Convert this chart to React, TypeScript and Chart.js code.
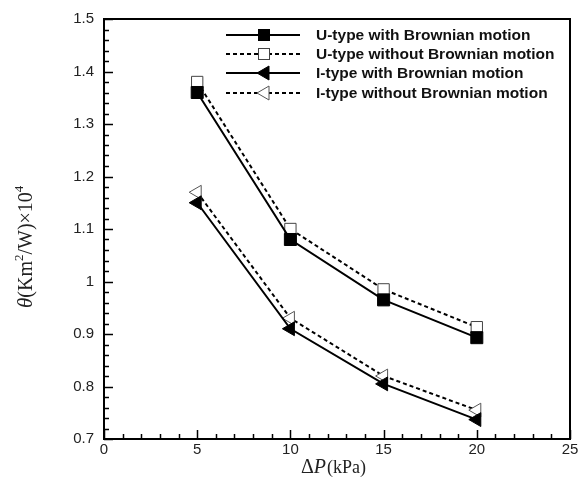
import React, { useEffect, useRef } from "react";
import { Chart, registerables } from "chart.js";

Chart.register(...registerables);

const pressure = [5, 10, 15, 20];
const uWith = [1.36, 1.08, 0.965, 0.893];
const uWithout = [1.38, 1.1, 0.985, 0.913];
const iWith = [1.15, 0.91, 0.805, 0.737];
const iWithout = [1.17, 0.93, 0.82, 0.755];
const seriesNames = [
  "U-type with Brownian motion",
  "U-type without Brownian motion",
  "I-type with Brownian motion",
  "I-type without Brownian motion",
];

const toXY = (ys: number[]) => pressure.map((x, i) => ({ x, y: ys[i] }));

const SERIF = "'Liberation Serif', 'Times New Roman', serif";

const decorPlugin = {
  id: "decor",
  afterDraw(chart: any) {
    const ctx = chart.ctx;
    const area = chart.chartArea;
    const xs = chart.scales.x;
    const ys = chart.scales.y;
    ctx.save();
    // frame
    ctx.strokeStyle = "#000";
    ctx.lineWidth = 2;
    ctx.strokeRect(area.left, area.top, area.right - area.left, area.bottom - area.top);
    // ticks inward
    ctx.lineWidth = 1.5;
    for (let v = 0; v <= 25; v += 1) {
      const px = Math.round(xs.getPixelForValue(v)) + 0.5;
      const len = v % 5 === 0 ? 9 : 5;
      ctx.beginPath();
      ctx.moveTo(px, area.bottom);
      ctx.lineTo(px, area.bottom - len);
      ctx.stroke();
    }
    for (let k = 0; k <= 40; k++) {
      const v = 0.7 + k * 0.02;
      const py = Math.round(ys.getPixelForValue(v)) + 0.5;
      const len = k % 5 === 0 ? 9 : 5;
      ctx.beginPath();
      ctx.moveTo(area.left, py);
      ctx.lineTo(area.left + len, py);
      ctx.stroke();
    }
    // legend
    const lx0 = 226;
    const lx1 = 300;
    const mx = 264;
    const rows = [35, 54, 73, 93];
    ctx.font = "bold 15.5px 'Liberation Sans', Arial, sans-serif";
    ctx.textBaseline = "middle";
    ctx.textAlign = "left";
    chart.data.datasets.forEach((ds: any, i: number) => {
      const y = rows[i];
      ctx.strokeStyle = "#000";
      ctx.lineWidth = 2;
      ctx.setLineDash(ds.borderDash || []);
      ctx.beginPath();
      ctx.moveTo(lx0, y);
      ctx.lineTo(lx1, y);
      ctx.stroke();
      ctx.setLineDash([]);
      // marker
      ctx.fillStyle = ds.pointBackgroundColor;
      ctx.strokeStyle = ds.pointBorderColor;
      ctx.lineWidth = 1;
      if (ds.pointStyle === "rect") {
        ctx.fillRect(mx - 6, y - 6, 12, 12);
        ctx.strokeRect(mx - 5.5, y - 5.5, 11, 11);
      } else {
        ctx.beginPath();
        ctx.moveTo(mx - 7, y);
        ctx.lineTo(mx + 5, y - 7);
        ctx.lineTo(mx + 5, y + 7);
        ctx.closePath();
        ctx.fill();
        ctx.stroke();
      }
      ctx.fillStyle = "#111";
      ctx.fillText(seriesNames[i], 316, y + 1);
    });
    // x title
    ctx.fillStyle = "#222";
    ctx.textBaseline = "alphabetic";
    const tx = 301;
    const ty = 473;
    ctx.font = "20px " + SERIF;
    ctx.fillText("\u0394", tx, ty);
    let w = ctx.measureText("\u0394").width;
    ctx.font = "italic 20px " + SERIF;
    ctx.fillText("P", tx + w, ty);
    w += ctx.measureText("P").width + 1;
    ctx.font = "18px " + SERIF;
    ctx.fillText("(kPa)", tx + w, ty);
    // y title
    ctx.save();
    ctx.translate(32, 308);
    ctx.rotate(-Math.PI / 2);
    let cx = 0;
    ctx.font = "italic 21px " + SERIF;
    ctx.fillText("\u03b8", cx, 0);
    cx += ctx.measureText("\u03b8").width;
    ctx.font = "20px " + SERIF;
    ctx.fillText("(Km", cx, 0);
    cx += ctx.measureText("(Km").width;
    ctx.font = "13px " + SERIF;
    ctx.fillText("2", cx, -9);
    cx += ctx.measureText("2").width;
    ctx.font = "20px " + SERIF;
    ctx.fillText("/W)\u00d710", cx, 0);
    cx += ctx.measureText("/W)\u00d710").width;
    ctx.font = "13px " + SERIF;
    ctx.fillText("4", cx, -9);
    ctx.restore();
    ctx.restore();
  },
};

export default function App() {
  const ref = useRef<HTMLCanvasElement>(null);
  useEffect(() => {
    document.body.style.margin = "0";
    const chart = new Chart(ref.current!, {
      type: "line",
      data: {
        datasets: [
          {
            label: seriesNames[0],
            data: toXY(uWith),
            borderColor: "#000",
            borderWidth: 2,
            pointStyle: "rect",
            pointRadius: 8.5,
            pointBackgroundColor: "#000",
            pointBorderColor: "#000",
            pointBorderWidth: 1,
          },
          {
            label: seriesNames[1],
            data: toXY(uWithout),
            borderColor: "#000",
            borderWidth: 2,
            borderDash: [4, 3],
            pointStyle: "rect",
            pointRadius: 8,
            pointBackgroundColor: "#fff",
            pointBorderColor: "#444",
            pointBorderWidth: 1,
          },
          {
            label: seriesNames[2],
            data: toXY(iWith),
            borderColor: "#000",
            borderWidth: 2,
            pointStyle: "triangle",
            pointRotation: -90,
            pointRadius: 8,
            pointBackgroundColor: "#000",
            pointBorderColor: "#000",
            pointBorderWidth: 1,
          },
          {
            label: seriesNames[3],
            data: toXY(iWithout),
            borderColor: "#000",
            borderWidth: 2,
            borderDash: [4, 3],
            pointStyle: "triangle",
            pointRotation: -90,
            pointRadius: 8,
            pointBackgroundColor: "#fff",
            pointBorderColor: "#555",
            pointBorderWidth: 1,
          },
        ] as any,
      },
      options: {
        animation: false,
        responsive: false,
        layout: { padding: { left: 0, right: 11, top: 17, bottom: 0 } },
        plugins: { legend: { display: false }, tooltip: { enabled: false } },
        scales: {
          x: {
            type: "linear",
            min: 0,
            max: 25,
            ticks: {
              stepSize: 5,
              color: "#222",
              padding: 2,
              font: { family: "'Liberation Sans', Arial, sans-serif", size: 15 },
            },
            grid: { drawOnChartArea: false, drawTicks: false },
            border: { display: false },
            afterFit: (s: any) => {
              s.height = 39;
            },
          },
          y: {
            type: "linear",
            min: 0.7,
            max: 1.5,
            ticks: {
              stepSize: 0.1,
              color: "#222",
              padding: 10,
              font: { family: "'Liberation Sans', Arial, sans-serif", size: 15 },
              callback: (v: any) => String(Number(Number(v).toFixed(1))),
            },
            grid: { drawOnChartArea: false, drawTicks: false },
            border: { display: false },
            afterFit: (s: any) => {
              s.width = 104;
            },
          },
        },
      } as any,
      plugins: [decorPlugin],
    });
    return () => chart.destroy();
  }, []);
  return <canvas ref={ref} width={581} height={478} style={{ display: "block" }} />;
}
